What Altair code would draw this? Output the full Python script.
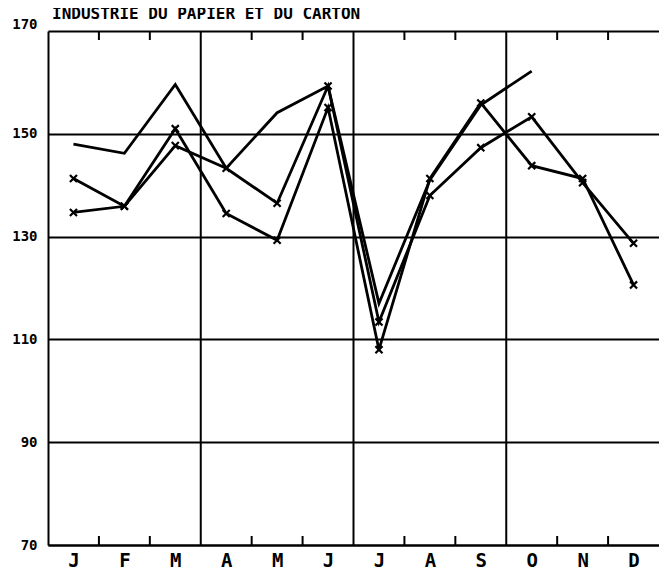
import altair as alt
import pandas as pd

title_text = "INDUSTRIE DU PAPIER ET DU CARTON"
months = ["J", "F", "M", "A", "M", "J", "J", "A", "S", "O", "N", "D"]
y_ticks = [70, 90, 110, 130, 150, 170]
quarter_bounds = [3, 6, 9]
month_bounds = [1, 2, 4, 5, 7, 8, 10, 11]

series_a = [148.0, 146.2, 159.6, 143.3, 154.1, 159.3, 117.0, 141.0, 155.6, 162.2]
series_b = [134.7, 135.9, 151.0, 134.5, 129.3, 155.1, 108.0, 141.3, 156.0, 143.8, 141.3, 120.6]
series_c = [141.3, 135.9, 147.7, 143.3, 136.5, 159.3, 113.4, 138.0, 147.3, 153.3, 140.5, 128.7]

rows = []
for name, vals in [("A", series_a), ("B", series_b), ("C", series_c)]:
    for i, v in enumerate(vals):
        rows.append({"series": name, "m": i + 0.5, "v": v})
df = pd.DataFrame(rows)
pts = df[df["series"] != "A"]

FONT = "DejaVu Sans Mono"
label_expr = "[" + ",".join("'%s'" % m for m in months) + "][floor(datum.value)]"

xscale = alt.Scale(domain=[0, 12], nice=False, zero=False)
yscale = alt.Scale(domain=[70, 170], nice=False, zero=False)

x_enc = alt.X(
    "m:Q", scale=xscale,
    axis=alt.Axis(
        values=[i + 0.5 for i in range(12)], labelExpr=label_expr, ticks=False,
        grid=False, domain=True, domainColor="black", domainWidth=2,
        labelFont=FONT, labelFontWeight="bold", labelFontSize=19, labelColor="black",
        labelPadding=6, title=None, labelFlush=False,
    ),
)
y_enc = alt.Y(
    "v:Q", scale=yscale,
    axis=alt.Axis(
        values=y_ticks, ticks=False, grid=True, gridColor="black", gridWidth=2,
        gridOpacity=1, domain=True, domainColor="black", domainWidth=2,
        labelFont=FONT, labelFontWeight="bold", labelFontSize=14, labelColor="black",
        labelPadding=11, title=None, labelFlush=False,
        labelBaseline=alt.condition("datum.value == 170", alt.value("bottom"), alt.value("middle")),
    ),
)

lines = alt.Chart(df).mark_line(color="black", strokeWidth=2.8).encode(
    x=x_enc, y=y_enc, detail="series:N", order="m:Q"
)
marks = alt.Chart(pts).mark_point(
    shape="M-1,-1L1,1M-1,1L1,-1", filled=False, color="black", strokeWidth=2.2, size=50, opacity=1
).encode(x="m:Q", y="v:Q")

qdf = pd.DataFrame({"b": quarter_bounds})
qrules = alt.Chart(qdf).mark_rule(color="black", strokeWidth=2).encode(x=alt.X("b:Q", scale=xscale))

mdf = pd.DataFrame({"b": month_bounds})
top_ticks = alt.Chart(mdf).mark_rule(color="black", strokeWidth=2).encode(
    x=alt.X("b:Q", scale=xscale), y=alt.value(0), y2=alt.value(9)
)
bot_ticks = alt.Chart(mdf).mark_rule(color="black", strokeWidth=2).encode(
    x=alt.X("b:Q", scale=xscale), y=alt.value(505), y2=alt.value(514)
)

title_mark = alt.Chart(pd.DataFrame({"t": [title_text]})).mark_text(
    font=FONT, fontWeight="bold", fontSize=16, color="black",
    align="left", baseline="alphabetic",
).encode(text="t:N", x=alt.value(4), y=alt.value(-12))

chart = alt.layer(qrules, top_ticks, bot_ticks, lines, marks, title_mark).properties(
    width=611, height=514,
    padding={"left": 40, "top": 23, "right": 0, "bottom": 26},
    autosize=alt.AutoSizeParams(type="none"),
).configure_view(stroke=None).configure(background="white")

chart.save("out.html", embed_options={"renderer": "svg", "actions": False})
